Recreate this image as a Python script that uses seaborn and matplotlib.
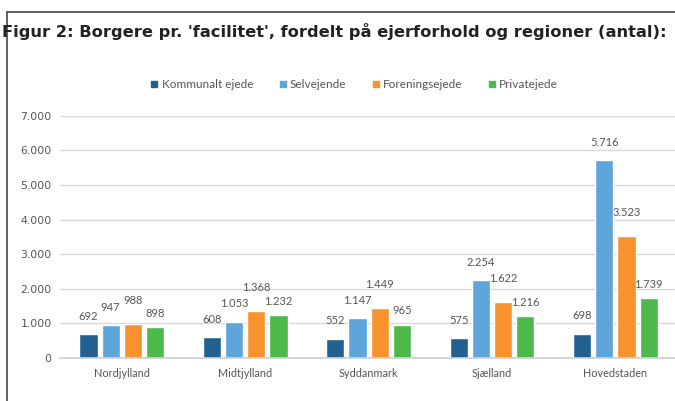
import matplotlib
matplotlib.use("Agg")
import matplotlib.pyplot as plt
from matplotlib.lines import Line2D
from matplotlib.ticker import FuncFormatter
import pandas as pd
import seaborn as sns

# data
regions = ["Nordjylland", "Midtjylland", "Syddanmark", "Sjælland", "Hovedstaden"]
owners = ["Kommunalt ejede", "Selvejende", "Foreningsejede", "Privatejede"]
kommunalt = [692, 608, 552, 575, 698]
selvejende = [947, 1053, 1147, 2254, 5716]
forening = [988, 1368, 1449, 1622, 3523]
privat = [898, 1232, 965, 1216, 1739]
yticks = [0, 1000, 2000, 3000, 4000, 5000, 6000, 7000]

colors = ["#22618f", "#5ea5dc", "#f7922f", "#4db94b"]

rows = []
for owner, vals in zip(owners, [kommunalt, selvejende, forening, privat]):
    for reg, v in zip(regions, vals):
        rows.append({"region": reg, "ejer": owner, "antal": v})
df = pd.DataFrame(rows)

def dk(x, pos=None):
    return f"{int(x):,}".replace(",", ".")

sns.set_theme(style="white")
plt.rcParams["font.family"] = ["Lato", "DejaVu Sans"]

fig = plt.figure(figsize=(6.75, 4.01), dpi=100)
ax = fig.add_axes([0.089, 0.107, 0.914, 0.604])

sns.barplot(data=df, x="region", y="antal", hue="ejer", order=regions,
            hue_order=owners, palette=colors, width=0.72, gap=0.18,
            saturation=1, legend=False, ax=ax)

ax.set_ylim(0, 7000)
ax.set_yticks(yticks)
ax.yaxis.set_major_formatter(FuncFormatter(dk))
ax.grid(axis="y", color="#d9d9d9", linewidth=1)
ax.set_axisbelow(True)
for s in ["top", "right", "left"]:
    ax.spines[s].set_visible(False)
ax.spines["bottom"].set_color("#d0d0d0")
ax.tick_params(axis="y", length=0, labelsize=7.8, colors="#555555", pad=6)
ax.tick_params(axis="x", length=0, labelsize=7.8, colors="#555555", pad=7)
for lab in ax.get_yticklabels():
    lab.set_family(["DejaVu Sans"])
ax.set_xlabel("")
ax.set_ylabel("")

pads = [9, 9, 13, 6]
for cont, pad in zip(ax.containers, pads):
    ax.bar_label(cont, labels=[dk(v) for v in cont.datavalues], padding=pad,
                 fontsize=8, color="#555555")

handles = [Line2D([], [], marker="s", linestyle="", markersize=4.5,
                  markerfacecolor=c, markeredgecolor=c) for c in colors]
fig.legend(handles, owners, loc="center", bbox_to_anchor=(0.524, 0.79),
           ncol=4, frameon=False, fontsize=8.5, handletextpad=0.2,
           handlelength=0.8, columnspacing=2.1, labelcolor="#555555")

fig.text(0.003, 0.922, "Figur 2: Borgere pr. 'facilitet', fordelt på ejerforhold og regioner (antal):",
         fontsize=11.7, fontweight="bold", color="#222222", ha="left", va="center",
         family=["DejaVu Sans"])

# page frame from the scanned report
fig.add_artist(Line2D([0.011, 1.0], [0.970, 0.970], color="#555555", linewidth=1.3))
fig.add_artist(Line2D([0.011, 0.011], [0.0, 0.970], color="#555555", linewidth=1.3))

fig.savefig("out.png", dpi=100)
